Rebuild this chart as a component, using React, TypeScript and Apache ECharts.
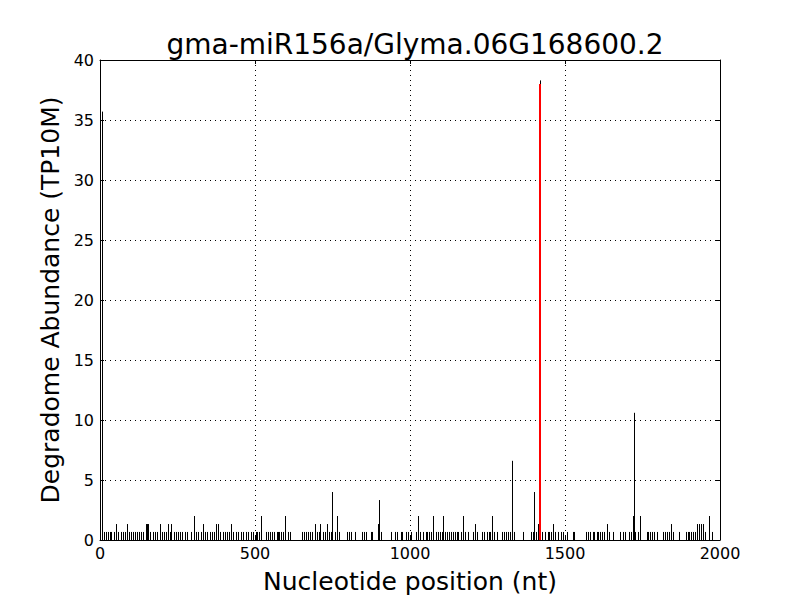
import React, { useEffect, useRef } from "react";
import * as echarts from "echarts";

const chartTitle = "gma-miR156a/Glyma.06G168600.2";
const xAxisName = "Nucleotide position (nt)";
const yAxisName = "Degradome Abundance (TP10M)";

// [nucleotide position, abundance]
const degradomeReads: [number, number][] = [
  [1, 2], [5, 35.7], [14, 0.67], [19, 0.67], [25, 0.67], [31, 0.67], [36, 0.67], [45, 0.67],
  [51, 1.33], [57, 0.67], [68, 0.67], [74, 0.67], [81, 0.67], [88, 1.33], [95, 0.67], [100, 0.67],
  [107, 0.67], [113, 0.67], [119, 0.67], [126, 0.67], [133, 0.67], [140, 0.67], [147, 1.33],
  [152, 1.33], [156, 1.33], [161, 0.67], [171, 0.67], [177, 0.67], [184, 0.67], [193, 1.33],
  [199, 0.67], [205, 0.67], [213, 0.67], [218, 1.33], [225, 0.67], [230, 1.33], [238, 0.67],
  [245, 0.67], [253, 0.67], [259, 0.67], [265, 0.67], [273, 0.67], [281, 0.67], [294, 0.67],
  [302, 2], [310, 0.67], [316, 0.67], [326, 0.67], [333, 1.33], [339, 0.67], [346, 0.67],
  [354, 0.67], [360, 0.67], [368, 0.67], [374, 1.33], [382, 1.33], [388, 0.67], [396, 0.67],
  [402, 0.67], [409, 0.67], [417, 0.67], [424, 1.33], [430, 0.67], [438, 0.67], [446, 0.67],
  [454, 0.67], [462, 0.67], [470, 0.67], [478, 0.67], [487, 0.67], [495, 0.67], [502, 0.67],
  [508, 0.67], [512, 0.67], [518, 2], [534, 0.67], [541, 0.67], [547, 0.67], [554, 0.67],
  [561, 0.67], [570, 0.67], [574, 0.67], [577, 0.67], [584, 0.67], [589, 0.67], [598, 2],
  [605, 0.67], [614, 0.67], [653, 0.67], [659, 0.67], [666, 0.67], [672, 0.67], [679, 0.67],
  [685, 0.67], [692, 1.33], [699, 0.67], [705, 0.67], [711, 1.33], [718, 0.67], [725, 0.67],
  [731, 1.33], [738, 0.67], [744, 0.67], [749, 4], [757, 0.67], [766, 2], [771, 0.67],
  [796, 0.67], [803, 0.67], [811, 0.67], [824, 0.67], [846, 0.67], [853, 0.67], [859, 0.67],
  [874, 0.67], [878, 0.67], [896, 1.33], [900, 3.33], [905, 0.67], [940, 0.67], [953, 0.67],
  [958, 0.67], [970, 0.67], [975, 0.67], [987, 0.67], [995, 0.67], [1003, 0.67], [1018, 0.67],
  [1027, 2], [1033, 0.67], [1041, 0.67], [1051, 0.67], [1056, 0.67], [1062, 0.67], [1068, 0.67],
  [1075, 2], [1083, 0.67], [1089, 0.67], [1096, 0.67], [1102, 0.67], [1108, 2], [1114, 0.67],
  [1120, 0.67], [1127, 0.67], [1133, 0.67], [1139, 0.67], [1145, 0.67], [1151, 0.67],
  [1156, 0.67], [1163, 0.67], [1172, 2], [1177, 0.67], [1186, 0.67], [1203, 0.67], [1210, 1.33],
  [1215, 0.67], [1233, 0.67], [1240, 0.67], [1247, 0.67], [1255, 0.67], [1259, 0.67], [1266, 2],
  [1271, 0.67], [1282, 0.67], [1296, 0.67], [1302, 0.67], [1309, 0.67], [1315, 0.67],
  [1321, 0.67], [1328, 0.67], [1330, 6.6], [1335, 0.67], [1366, 0.67], [1390, 0.67],
  [1396, 0.67], [1399, 4], [1406, 0.67], [1412, 1.33], [1418, 38.3], [1425, 0.67], [1435, 0.67],
  [1444, 0.67], [1449, 0.67], [1455, 0.67], [1460, 1.33], [1467, 0.67], [1478, 0.67],
  [1486, 0.67], [1495, 0.67], [1505, 0.67], [1527, 0.67], [1529, 0.67], [1568, 0.67],
  [1573, 0.67], [1581, 0.67], [1589, 0.67], [1595, 0.67], [1602, 0.67], [1608, 0.67],
  [1613, 0.67], [1620, 0.67], [1627, 0.67], [1634, 1.33], [1641, 0.67], [1656, 0.67],
  [1678, 0.67], [1688, 0.67], [1695, 0.67], [1705, 0.67], [1712, 0.67], [1718, 1.33], [1720, 2],
  [1723, 10.6], [1727, 0.67], [1734, 0.67], [1742, 2], [1763, 0.67], [1769, 0.67], [1774, 0.67],
  [1781, 0.67], [1788, 0.67], [1796, 0.67], [1817, 0.67], [1823, 0.67], [1828, 0.67],
  [1837, 0.67], [1843, 1.33], [1849, 0.67], [1868, 0.67], [1890, 0.67], [1896, 0.67],
  [1901, 0.67], [1906, 0.67], [1914, 0.67], [1919, 0.67], [1925, 1.33], [1931, 1.33],
  [1938, 1.33], [1944, 1.33], [1950, 0.67], [1966, 2], [1973, 0.67],
];

// predicted cleavage site
const cleavageSite: [number, number][] = [[1418, 38.0]];

const xTicks = { min: 0, max: 2000, interval: 500 };
const yTicks = { min: 0, max: 40, interval: 5 };

const FONT = "DejaVu Sans";

function stickRenderer(color: string, width: number) {
  return (params: any, api: any) => {
    const x = api.value(0);
    const y = api.value(1);
    const p0 = api.coord([x, 0]);
    const p1 = api.coord([x, y]);
    const px = Math.round(p0[0]) + (width % 2 === 1 ? 0.5 : 0);
    return {
      type: "line",
      shape: { x1: px, y1: p0[1], x2: px, y2: p1[1] },
      style: { stroke: color, lineWidth: width },
    };
  };
}

export default function App() {
  const ref = useRef<HTMLDivElement>(null);
  useEffect(() => {
    if (!ref.current) return;
    const chart = echarts.init(ref.current, null, { renderer: "svg" });
    const axisCommon = {
      axisLine: { show: true, onZero: false, lineStyle: { color: "#000", width: 1 } },
      axisTick: { show: true, inside: true, length: 4, lineStyle: { color: "#000" } },
      splitLine: { show: true, lineStyle: { color: "#000", type: [1, 4], width: 1 } },
      axisLabel: {
        color: "#000",
        fontSize: 16,
        fontFamily: FONT,
        formatter: (v: number) => String(v),
      },
    };
    chart.setOption({
      animation: false,
      backgroundColor: "#fff",
      title: {
        text: chartTitle,
        left: 410,
        textAlign: "center",
        top: 25,
        textStyle: { fontFamily: FONT, fontSize: 28, fontWeight: "normal", color: "#000" },
      },
      grid: { left: 100, right: 80, top: 60, bottom: 60, containLabel: false },
      xAxis: [
        {
          type: "value",
          ...xTicks,
          ...axisCommon,
          name: xAxisName,
          nameLocation: "middle",
          nameGap: 29,
          nameTextStyle: { fontFamily: FONT, fontSize: 25, color: "#000" },
          axisLabel: { ...axisCommon.axisLabel, margin: 5 },
        },
        {
          type: "value",
          position: "top",
          ...xTicks,
          ...axisCommon,
          splitLine: { show: false },
          axisLabel: { show: false },
        },
      ],
      yAxis: [
        {
          type: "value",
          ...yTicks,
          ...axisCommon,
          name: yAxisName,
          nameLocation: "middle",
          nameGap: 34,
          nameTextStyle: { fontFamily: FONT, fontSize: 25, color: "#000" },
          axisLabel: { ...axisCommon.axisLabel, margin: 6 },
        },
        {
          type: "value",
          position: "right",
          ...yTicks,
          ...axisCommon,
          splitLine: { show: false },
          axisLabel: { show: false },
        },
      ],
      series: [
        {
          type: "custom",
          xAxisIndex: 0,
          yAxisIndex: 0,
          renderItem: stickRenderer("#000", 1),
          data: degradomeReads,
          clip: true,
          silent: true,
        },
        {
          type: "custom",
          xAxisIndex: 0,
          yAxisIndex: 0,
          renderItem: stickRenderer("#ff0000", 2),
          data: cleavageSite,
          clip: true,
          silent: true,
          z: 5,
        },
      ],
    });
    return () => chart.dispose();
  }, []);
  return (
    <div
      ref={ref}
      style={{ position: "absolute", left: 0, top: 0, width: 800, height: 600 }}
    />
  );
}
